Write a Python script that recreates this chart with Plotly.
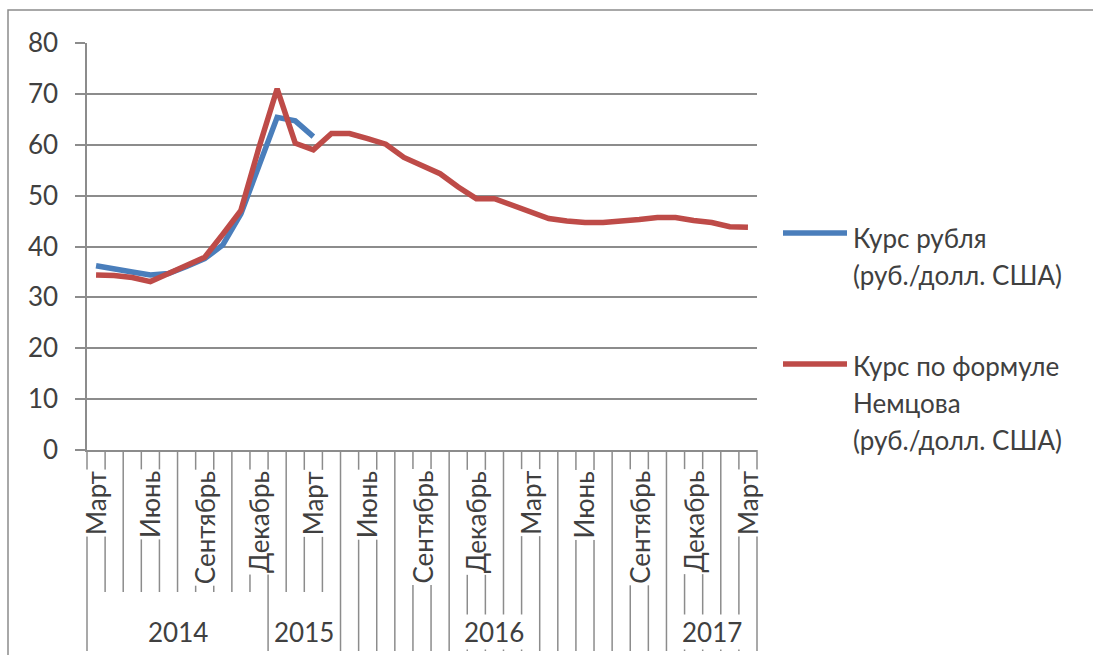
import plotly.graph_objects as go

# ---------------- data ----------------
categories = [
    "Март 2014", "Апрель 2014", "Май 2014", "Июнь 2014", "Июль 2014", "Август 2014",
    "Сентябрь 2014", "Октябрь 2014", "Ноябрь 2014", "Декабрь 2014",
    "Январь 2015", "Февраль 2015", "Март 2015", "Апрель 2015", "Май 2015", "Июнь 2015",
    "Июль 2015", "Август 2015", "Сентябрь 2015", "Октябрь 2015", "Ноябрь 2015", "Декабрь 2015",
    "Январь 2016", "Февраль 2016", "Март 2016", "Апрель 2016", "Май 2016", "Июнь 2016",
    "Июль 2016", "Август 2016", "Сентябрь 2016", "Октябрь 2016", "Ноябрь 2016", "Декабрь 2016",
    "Январь 2017", "Февраль 2017", "Март 2017",
]

rub_rate = [36.2, 35.7, 35.0, 34.4, 34.7, 36.1, 37.6, 40.3, 46.4, 55.9, 65.4, 64.7, 61.6]

nemtsov_rate = [34.4, 34.3, 33.9, 33.1, 34.7, 36.3, 37.9, 42.4, 47.1, 59.5, 71.0, 60.3,
                59.0, 62.2, 62.2, 61.2, 60.1, 57.5, 55.9, 54.3, 51.7, 49.4, 49.4, 48.1,
                46.8, 45.5, 45.0, 44.7, 44.7, 44.9, 45.3, 45.7, 45.7, 45.1, 44.7, 43.9, 43.8]

tick_categories = categories[::3]
tick_labels = ["Март", "Июнь", "Сентябрь", "Декабрь", "Март", "Июнь", "Сентябрь",
               "Декабрь", "Март", "Июнь", "Сентябрь", "Декабрь", "Март"]

year_labels = ["2014", "2015", "2016", "2017"]
year_first = [0, 10, 14, 32]
year_last = [9, 13, 30, 36]

series_names = ["Курс рубля<br>(руб./долл. США)",
                "Курс по формуле<br>Немцова<br>(руб./долл. США)"]

# ---------------- style ----------------
FONT = "Lato"
TXT = "#404040"
GRID = "#8c8c8c"
BLUE = "#4A7EBB"
RED = "#BE4B48"
FS = 26

W, H = 1093, 655
L, R, T, B = 87, 336, 43, 205
PW, PH = W - L - R, H - T - B


def px_x(x):
    return (x - L) / PW


def px_y(y):
    return (H - B - y) / PH


fig = go.Figure()
fig.add_trace(go.Scatter(x=categories[:len(rub_rate)], y=rub_rate, mode="lines",
                         line=dict(color=BLUE, width=5.5), name=series_names[0],
                         showlegend=False))
fig.add_trace(go.Scatter(x=categories, y=nemtsov_rate, mode="lines",
                         line=dict(color=RED, width=5.5), name=series_names[1],
                         showlegend=False))

shapes = []
N = len(categories)
# category divider lines below the axis
for k in range(N + 1):
    full = k == 0 or k == 10 or k >= 14
    shapes.append(dict(type="line", xref="x domain", yref="paper",
                       x0=k / N, x1=k / N, y0=0, y1=px_y(651 if full else 592),
                       line=dict(color=GRID, width=1.5), layer="below"))
# outer chart frame
shapes.append(dict(type="rect", xref="paper", yref="paper",
                   x0=px_x(8), x1=px_x(1110), y0=px_y(670), y1=px_y(10),
                   line=dict(color=GRID, width=1.5), fillcolor="rgba(0,0,0,0)",
                   layer="below"))

annotations = []
for cat, lab in zip(tick_categories, tick_labels):
    annotations.append(dict(x=cat, xref="x", y=px_y(469), yref="paper",
                            text=lab, textangle=-90, xanchor="center", yanchor="top",
                            showarrow=False, bgcolor="white", borderpad=1,
                            font=dict(family=FONT, size=FS, color=TXT)))
for lab, a, b in zip(year_labels, year_first, year_last):
    annotations.append(dict(x=(a + b) / 2, xref="x", y=px_y(632), yref="paper",
                            text=lab, xanchor="center", yanchor="middle",
                            showarrow=False, bgcolor="white", borderpad=1,
                            font=dict(family=FONT, size=FS, color=TXT)))

# legend (drawn manually to match Excel's long line samples)
legend_line_y = [233, 364]
legend_text_y = [[238, 275], [366, 403, 440]]
for name, color, ly, tys in zip(series_names, [BLUE, RED], legend_line_y, legend_text_y):
    shapes.append(dict(type="line", xref="paper", yref="paper",
                       x0=px_x(783), x1=px_x(847), y0=px_y(ly), y1=px_y(ly),
                       line=dict(color=color, width=5.5)))
    for part, ty in zip(name.split("<br>"), tys):
        annotations.append(dict(x=px_x(851), xref="paper", y=px_y(ty), yref="paper",
                                text=part, xanchor="left", yanchor="middle",
                                showarrow=False,
                                font=dict(family=FONT, size=FS, color=TXT)))

fig.update_layout(
    width=W, height=H,
    margin=dict(l=L, r=R, t=T, b=B, pad=0),
    paper_bgcolor="white", plot_bgcolor="white",
    font=dict(family=FONT, size=FS, color=TXT),
    showlegend=False,
    shapes=shapes,
    annotations=annotations,
    xaxis=dict(type="category", categoryorder="array", categoryarray=categories,
               range=[-0.5, N - 0.5], showgrid=False, showticklabels=False,
               ticks="", showline=True, linecolor=GRID, linewidth=1.5,
               zeroline=False, fixedrange=True),
    yaxis=dict(range=[0, 80], dtick=10, showgrid=True, gridcolor=GRID, gridwidth=1.5,
               ticks="outside", ticklen=10, tickcolor=GRID, tickwidth=1.5,
               showline=True, linecolor=GRID, linewidth=1.5, zeroline=False,
               ticklabelstandoff=12,
               tickfont=dict(family=FONT, size=FS, color=TXT), fixedrange=True),
)

fig.write_html("out.html")
